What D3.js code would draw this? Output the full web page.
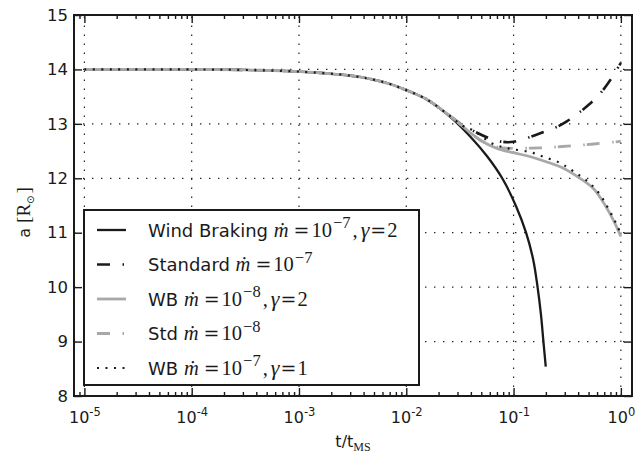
<!DOCTYPE html>
<html>
<head>
<meta charset="utf-8">
<script src="https://cdn.jsdelivr.net/npm/d3@7"></script>
<style>
  html, body { margin: 0; padding: 0; background: #ffffff; }
  svg { display: block; }
</style>
</head>
<body>
<svg id="chart" width="639" height="456"></svg>
<script>
// Orbital separation a [R_sun] against t / t_MS for five mass-loss / braking models.

// Wind Braking, mdot = 1e-7, gamma = 2
const tWB7g2 = [1e-5, 1e-4, 3.16e-4, 1e-3, 3.16e-3, 6.31e-3, 0.01, 0.0158, 0.0257, 0.0398, 0.0569, 0.0784, 0.1048, 0.1307, 0.1526, 0.1674, 0.1799, 0.1898, 0.1995];
const aWB7g2 = [14.0, 14.0, 13.99, 13.96, 13.88, 13.76, 13.62, 13.44, 13.13, 12.76, 12.4, 12.0, 11.5, 11.0, 10.5, 10.0, 9.5, 9.0, 8.54];

// Standard, mdot = 1e-7
const tStd7 = [1e-5, 1e-4, 3.16e-4, 1e-3, 3.16e-3, 6.31e-3, 0.01, 0.0158, 0.0257, 0.0316, 0.0422, 0.0603, 0.0794, 0.1, 0.1334, 0.1905, 0.2512, 0.3162, 0.3981, 0.5012, 0.631, 0.7943, 1.0];
const aStd7 = [14.0, 14.0, 13.99, 13.96, 13.88, 13.76, 13.62, 13.44, 13.14, 13.01, 12.87, 12.73, 12.67, 12.67, 12.74, 12.85, 12.94, 13.05, 13.19, 13.35, 13.54, 13.8, 14.12];

// WB, mdot = 1e-8, gamma = 2
const tWB8g2 = [1e-5, 1e-4, 3.16e-4, 1e-3, 3.16e-3, 6.31e-3, 0.01, 0.0158, 0.0257, 0.0316, 0.0398, 0.049, 0.07, 0.1, 0.1413, 0.2042, 0.2818, 0.4169, 0.5623, 0.7161, 0.8511, 1.0];
const aWB8g2 = [14.0, 14.0, 13.99, 13.96, 13.88, 13.76, 13.62, 13.44, 13.14, 13.0, 12.83, 12.7, 12.55, 12.47, 12.4, 12.3, 12.2, 12.0, 11.8, 11.5, 11.23, 10.93];

// Std, mdot = 1e-8
const tStd8 = [1e-5, 1e-4, 3.16e-4, 1e-3, 3.16e-3, 6.31e-3, 0.01, 0.0158, 0.0257, 0.0316, 0.0398, 0.049, 0.0631, 0.0794, 0.1, 0.1778, 0.3162, 0.5623, 1.0];
const aStd8 = [14.0, 14.0, 13.99, 13.96, 13.88, 13.76, 13.62, 13.44, 13.14, 13.0, 12.83, 12.7, 12.6, 12.56, 12.55, 12.56, 12.59, 12.63, 12.68];

// WB, mdot = 1e-7, gamma = 1
const tWB7g1 = [1e-5, 1e-4, 3.16e-4, 1e-3, 3.16e-3, 6.31e-3, 0.01, 0.0158, 0.0257, 0.0339, 0.0422, 0.0631, 0.0891, 0.1429, 0.1995, 0.2661, 0.3126, 0.3673, 0.4266, 0.5012, 0.5689, 0.6457, 0.7079, 0.7762, 0.8511, 0.9226, 1.0];
const aWB7g1 = [14.0, 14.0, 13.99, 13.96, 13.88, 13.76, 13.62, 13.44, 13.14, 12.96, 12.88, 12.64, 12.55, 12.48, 12.38, 12.29, 12.21, 12.12, 12.03, 11.93, 11.82, 11.69, 11.56, 11.42, 11.27, 11.13, 10.98];

// Legend labels
const legendNames = ["Wind Braking", "Standard", "WB", "Std", "WB"];
const legendMdotExp = ["\u22127", "\u22127", "\u22128", "\u22128", "\u22127"];
const legendGamma = ["2", null, "2", null, "1"];

// Axis ticks
const xTickExponents = [-5, -4, -3, -2, -1, 0];
const yTicks = [8, 9, 10, 11, 12, 13, 14, 15];
const yGrid = [9, 10, 11, 12, 13, 14];

const svg = d3.select("#chart");
const plot = { left: 74, right: 632, top: 15, bottom: 396 };

const x = d3.scaleLog().domain([8e-6, 1.27]).range([plot.left, plot.right]);
const y = d3.scaleLinear().domain([8, 15]).range([plot.bottom, plot.top]);

const INK = "#1a1a1a";
const GREY = "#a8a8a8";
const SANS = "DejaVu Sans, sans-serif";
const SERIF = "Liberation Serif, DejaVu Serif, serif";
const EQ_FONT = "DejaVu Serif, serif";

svg.append("rect").attr("width", 639).attr("height", 456).attr("fill", "#ffffff");

svg.append("defs").append("clipPath").attr("id", "plotclip")
  .append("rect")
  .attr("x", plot.left).attr("y", plot.top)
  .attr("width", plot.right - plot.left).attr("height", plot.bottom - plot.top);

// Dotted grid
const majorT = xTickExponents.map(e => Math.pow(10, e));
const grid = svg.append("g").attr("stroke", "#222").attr("stroke-width", 1.2)
  .attr("stroke-dasharray", "1.4,7.6").attr("fill", "none");
grid.selectAll("line.gx").data(majorT).join("line").attr("class", "gx")
  .attr("x1", d => x(d)).attr("x2", d => x(d))
  .attr("y1", plot.bottom).attr("y2", plot.top);
grid.selectAll("line.gy").data(yGrid).join("line").attr("class", "gy")
  .attr("x1", plot.left).attr("x2", plot.right)
  .attr("y1", d => y(d)).attr("y2", d => y(d));

// Curves
const series = [
  { t: tWB7g2, a: aWB7g2, color: INK,  width: 2.3, dash: null },
  { t: tStd7,  a: aStd7,  color: INK,  width: 2.6, dash: "13,12.5,1.5,2" },
  { t: tWB8g2, a: aWB8g2, color: GREY, width: 2.8, dash: null },
  { t: tStd8,  a: aStd8,  color: GREY, width: 2.8, dash: "13,12.5,1.5,2" },
  { t: tWB7g1, a: aWB7g1, color: INK,  width: 2.2, dash: "2,6.5" }
];

const line = d3.line()
  .x(d => x(d[0]))
  .y(d => y(d[1]))
  .curve(d3.curveCatmullRom.alpha(0.5));

const curves = svg.append("g").attr("clip-path", "url(#plotclip)");
series.forEach(s => {
  curves.append("path")
    .datum(d3.zip(s.t, s.a))
    .attr("d", line)
    .attr("fill", "none")
    .attr("stroke", s.color)
    .attr("stroke-width", s.width)
    .attr("stroke-dasharray", s.dash)
    .attr("stroke-linejoin", "round");
});

// Minor x tick positions (2..9 per decade)
const minorT = [9e-6];
for (let e = -5; e <= -1; e++) {
  for (let k = 2; k <= 9; k++) minorT.push(k * Math.pow(10, e));
}

function styleAxis(g) {
  g.select(".domain").remove();
  g.selectAll(".tick line").attr("stroke", INK).attr("stroke-width", 1.4);
}

// Bottom axis with labels 10^n
const xAxisBottom = svg.append("g")
  .attr("transform", `translate(0,${plot.bottom})`)
  .call(d3.axisBottom(x).tickValues(majorT).tickSizeInner(-8).tickSizeOuter(0).tickPadding(16).tickFormat(() => ""))
  .call(styleAxis);
xAxisBottom.selectAll(".tick text").each(function (d, i) {
  const t = d3.select(this)
    .attr("font-family", SANS).attr("font-size", 16).attr("fill", INK)
    .attr("dy", "0.71em");
  t.append("tspan").text("10");
  t.append("tspan").attr("font-size", 11.5).attr("dy", -7).text(String(xTickExponents[i]));
});
svg.append("g")
  .attr("transform", `translate(0,${plot.bottom})`)
  .call(d3.axisBottom(x).tickValues(minorT).tickSizeInner(-4).tickSizeOuter(0).tickFormat(() => ""))
  .call(styleAxis);

// Top axis (ticks only)
svg.append("g")
  .attr("transform", `translate(0,${plot.top})`)
  .call(d3.axisTop(x).tickValues(majorT).tickSizeInner(-8).tickSizeOuter(0).tickFormat(() => ""))
  .call(styleAxis);
svg.append("g")
  .attr("transform", `translate(0,${plot.top})`)
  .call(d3.axisTop(x).tickValues(minorT).tickSizeInner(-4).tickSizeOuter(0).tickFormat(() => ""))
  .call(styleAxis);

// Left axis
svg.append("g")
  .attr("transform", `translate(${plot.left},0)`)
  .call(d3.axisLeft(y).tickValues(yTicks).tickSizeInner(-8).tickSizeOuter(0).tickPadding(6).tickFormat(d3.format("d")))
  .call(styleAxis)
  .call(g => g.selectAll(".tick text")
    .attr("font-family", SANS).attr("font-size", 16.5).attr("fill", INK));

// Right axis (ticks only)
svg.append("g")
  .attr("transform", `translate(${plot.right},0)`)
  .call(d3.axisRight(y).tickValues(yTicks).tickSizeInner(-8).tickSizeOuter(0).tickFormat(() => ""))
  .call(styleAxis);

// Frame
svg.append("rect")
  .attr("x", plot.left).attr("y", plot.top)
  .attr("width", plot.right - plot.left).attr("height", plot.bottom - plot.top)
  .attr("fill", "none").attr("stroke", INK).attr("stroke-width", 2);

// Axis titles
const xl = svg.append("text")
  .attr("x", (plot.left + plot.right) / 2).attr("y", 447)
  .attr("text-anchor", "middle").attr("fill", INK);
xl.append("tspan").attr("font-family", SANS).attr("font-size", 16).text("t/t");
xl.append("tspan").attr("font-family", SERIF).attr("font-size", 12).attr("dy", 4).text("MS");

const yl = svg.append("text")
  .attr("transform", `translate(30,${(plot.top + plot.bottom) / 2 + 7}) rotate(-90)`)
  .attr("text-anchor", "middle").attr("fill", INK);
yl.append("tspan").attr("font-family", SANS).attr("font-size", 16).text("a ");
yl.append("tspan").attr("font-family", SERIF).attr("font-size", 19).text("[R");
yl.append("tspan").attr("font-family", "DejaVu Sans, sans-serif").attr("font-size", 10).attr("dy", 4).text("\u2299");
yl.append("tspan").attr("font-family", SERIF).attr("font-size", 19).attr("dy", -4).attr("dx", 2).text("]");

// Legend
const legend = svg.append("g");
legend.append("rect")
  .attr("x", 84).attr("y", 210).attr("width", 335).attr("height", 175)
  .attr("fill", "#ffffff").attr("stroke", INK).attr("stroke-width", 2);

const rowY = d3.scalePoint().domain(d3.range(series.length)).range([230, 368]);

series.forEach((s, i) => {
  const cy = rowY(i);
  legend.append("line")
    .attr("x1", 97).attr("x2", 126).attr("y1", cy).attr("y2", cy)
    .attr("stroke", s.color).attr("stroke-width", s.width)
    .attr("stroke-dasharray", s.dash);

  const txt = legend.append("text")
    .attr("x", 148).attr("y", cy + 6.5).attr("fill", INK);
  txt.append("tspan").attr("font-family", SANS).attr("font-size", 18).text(legendNames[i] + " ");
  const m = (str, opts = {}) => {
    const sp = txt.append("tspan").attr("font-family", opts.family || SERIF).attr("font-size", opts.size || 20.5);
    if (opts.italic) sp.attr("font-style", "italic");
    if (opts.dx) sp.attr("dx", opts.dx);
    if (opts.dy) sp.attr("dy", opts.dy);
    sp.text(str);
    return sp;
  };
  m("\u1E41", { italic: true });
  m("=", { dx: 5, size: 19, family: EQ_FONT });
  m("10", { dx: 2 });
  m(legendMdotExp[i], { size: 16.5, dy: -8.5, dx: 1 });
  if (legendGamma[i] !== null) {
    m(",", { dy: 8.5, dx: 2 });
    m("\u03B3", { italic: true, dx: 3, size: 22 });
    m("=", { dx: 1, size: 19, family: EQ_FONT });
    m(legendGamma[i], { dx: 1 });
  }
});
</script>
</body>
</html>
